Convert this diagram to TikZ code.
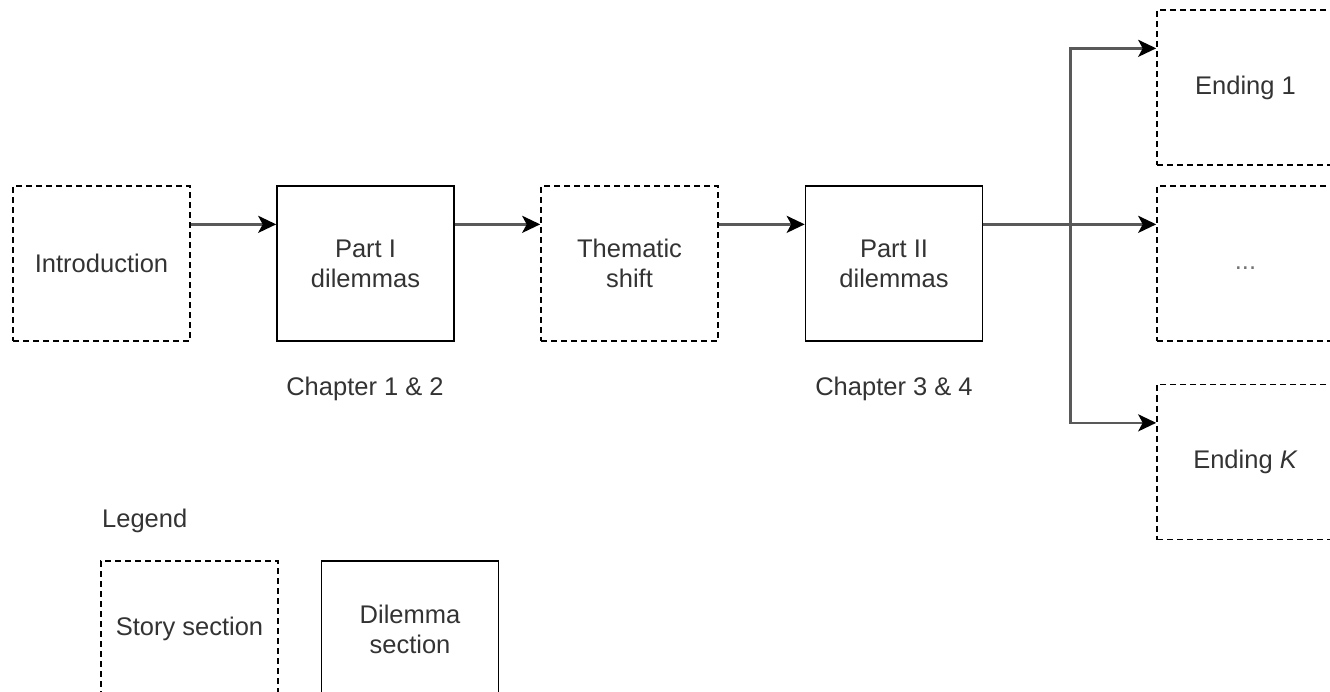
\documentclass[tikz,border=0pt]{standalone}
\usepackage{fontspec}
\setmainfont{Liberation Sans}
\usetikzlibrary{arrows.meta,calc}
\definecolor{txt}{HTML}{333333}
\begin{document}
\begin{tikzpicture}[x=1pt,y=-1pt,
  box/.style={draw=black, line width=1.6pt, minimum width=177pt, minimum height=155pt,
    inner sep=0pt, align=center, text=txt, font=\fontsize{25.5}{30}\selectfont},
  story/.style={box, dash pattern=on 6pt off 4pt},
  dil/.style={box},
  lbl/.style={text=txt, font=\fontsize{25.5}{30}\selectfont, inner sep=0pt},
  conn/.style={draw=black!65, line width=2.6pt,
    -{Stealth[length=18pt,width=17pt,inset=4.5pt,color=black]}},
]
\useasboundingbox (0,0) rectangle (1330,692);

\node[story] (intro) at (101.5,263.5) {Introduction};
\node[dil]   (p1)    at (365.5,263.5) {Part I\\dilemmas};
\node[story] (th)    at (629.5,263.5) {Thematic\\shift};
\node[dil]   (p2)    at (894,263.5)   {Part II\\dilemmas};
\node[story] (e1)    at (1245.5,87.5) {Ending 1};
\node[story, text=black!55] (ed) at (1245.5,263.5) {\vphantom{Eg}...};
\node[story] (ek)    at (1245.5,462)  {Ending \textit{K}};

\node[lbl, anchor=base] (c12) at (365,395) {Chapter 1 \& 2};
\node[lbl, anchor=base] (c34) at (894,395) {Chapter 3 \& 4};

\node[lbl, anchor=base west] (leg) at (102,527) {Legend};
\node[story, minimum height=136pt] (ls) at (189.5,629) {Story section};
\node[dil, minimum height=136pt]   (ld) at (410,629)   {Dilemma\\section};

\coordinate (o1) at ($(intro.north east)!0.25!(intro.south east)$);
\coordinate (o2) at ($(p1.north east)!0.25!(p1.south east)$);
\coordinate (o3) at ($(th.north east)!0.25!(th.south east)$);
\coordinate (o4) at ($(p2.north east)!0.25!(p2.south east)$);
\coordinate (br) at ($(o4)+(87,0)$);
\coordinate (i1) at ($(e1.north west)!0.25!(e1.south west)$);
\coordinate (ik) at ($(ek.north west)!0.25!(ek.south west)$);

\draw[conn] (o1) -- (o1 -| p1.west);
\draw[conn] (o2) -- (o2 -| th.west);
\draw[conn] (o3) -- (o3 -| p2.west);
\draw[conn] (o4) -- (br) |- (i1);
\draw[conn] (o4) -- (o4 -| ed.west);
\draw[conn] (o4) -- (br) |- (ik);
\end{tikzpicture}
\end{document}
